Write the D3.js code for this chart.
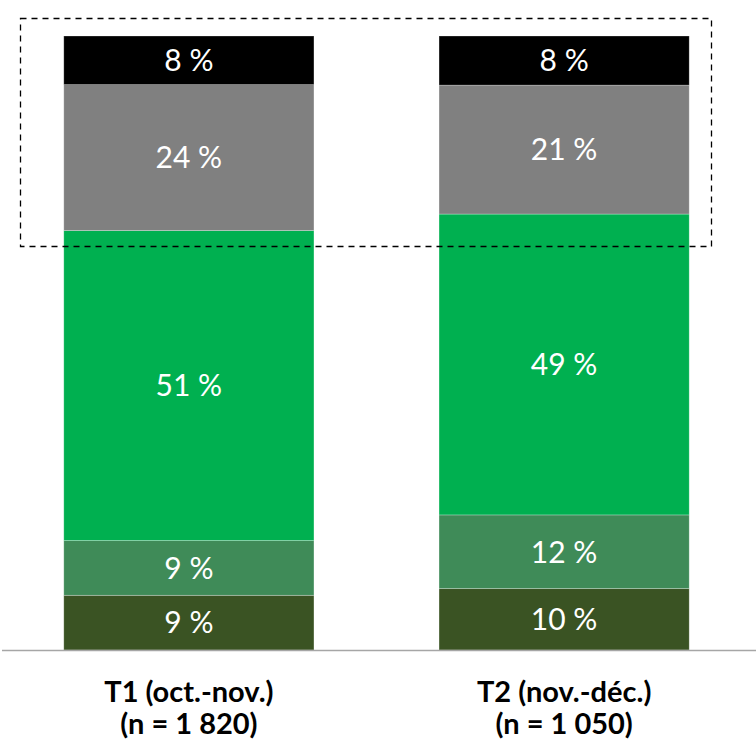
<!DOCTYPE html>
<html>
<head>
<meta charset="utf-8">
<script src="https://cdn.jsdelivr.net/npm/d3@7"></script>
<style>
  body { margin: 0; background: #fff; }
  svg { display: block; font-family: Lato, "Open Sans", sans-serif; }
</style>
</head>
<body>
<div id="chart"></div>
<script>
        // Data
        const categories = ["T1", "T2"];
        const catLine1 = ["T1 (oct.-nov.)", "T2 (nov.-déc.)"];
        const catLine2 = ["(n = 1 820)", "(n = 1 050)"];
        // series from bottom to top
        const seriesKeys = ["s1", "s2", "s3", "s4", "s5"];
        const seriesColors = ["#3a5323", "#3f8b58", "#00b050", "#808080", "#000000"];
        const t1Values = [9, 9, 51, 24, 8];
        const t2Values = [10, 12, 49, 21, 8];

        const width = 756;
        const height = 749;
        const svg = d3.select("#chart")
            .append("svg")
            .attr("width", width)
            .attr("height", height);

        const rows = [t1Values, t2Values].map((vals, i) => {
            const row = { cat: categories[i] };
            seriesKeys.forEach((k, j) => row[k] = vals[j]);
            return row;
        });

        const stack = d3.stack()
            .keys(seriesKeys)
            .offset(d3.stackOffsetExpand);
        const layers = stack(rows);

        const x = d3.scaleBand()
            .domain(categories)
            .range([0, 753])
            .paddingInner(1 / 3)
            .paddingOuter(0.17);

        const y = d3.scaleLinear()
            .domain([0, 1])
            .range([650, 36]);

        // bars
        const layer = svg.append("g")
            .selectAll("g")
            .data(layers)
            .enter()
            .append("g")
            .attr("fill", (d, i) => seriesColors[i]);

        layer.selectAll("rect")
            .data(d => d.map(p => ({ p, key: d.key })))
            .enter()
            .append("rect")
            .attr("x", d => x(d.p.data.cat))
            .attr("width", x.bandwidth())
            .attr("y", d => y(d.p[1]))
            .attr("height", d => y(d.p[0]) - y(d.p[1]))
            .attr("stroke", "rgba(255,255,255,0.35)")
            .attr("stroke-width", 0.75);

        // value labels
        layer.selectAll("text")
            .data(d => d.map(p => ({ p, key: d.key })))
            .enter()
            .append("text")
            .attr("x", d => x(d.p.data.cat) + x.bandwidth() / 2)
            .attr("y", d => (y(d.p[0]) + y(d.p[1])) / 2)
            .attr("dy", "0.36em")
            .attr("text-anchor", "middle")
            .attr("fill", "#fff")
            .attr("font-size", "30px")
            .text(d => d.p.data[d.key] + " %");

        // baseline
        svg.append("line")
            .attr("x1", 2)
            .attr("x2", width)
            .attr("y1", y(0) + 0.5)
            .attr("y2", y(0) + 0.5)
            .attr("stroke", "#a6a6a6")
            .attr("stroke-width", 1.5);

        // category labels
        const labels = svg.append("g")
            .selectAll("text")
            .data(categories)
            .enter()
            .append("text")
            .attr("x", d => x(d) + x.bandwidth() / 2)
            .attr("text-anchor", "middle")
            .attr("font-size", "29px")
            .attr("font-weight", "bold")
            .attr("fill", "#000");
        labels.append("tspan")
            .attr("x", d => x(d) + x.bandwidth() / 2)
            .attr("y", 702)
            .text((d, i) => catLine1[i]);
        labels.append("tspan")
            .attr("x", d => x(d) + x.bandwidth() / 2)
            .attr("y", 734)
            .text((d, i) => catLine2[i]);

        // dashed highlight box round the top two segments
        svg.append("rect")
            .attr("x", 20.5)
            .attr("y", 18.5)
            .attr("width", 691)
            .attr("height", 228)
            .attr("fill", "none")
            .attr("stroke", "#000")
            .attr("stroke-width", 1.3)
            .attr("stroke-dasharray", "6,5");
</script>
</body>
</html>
